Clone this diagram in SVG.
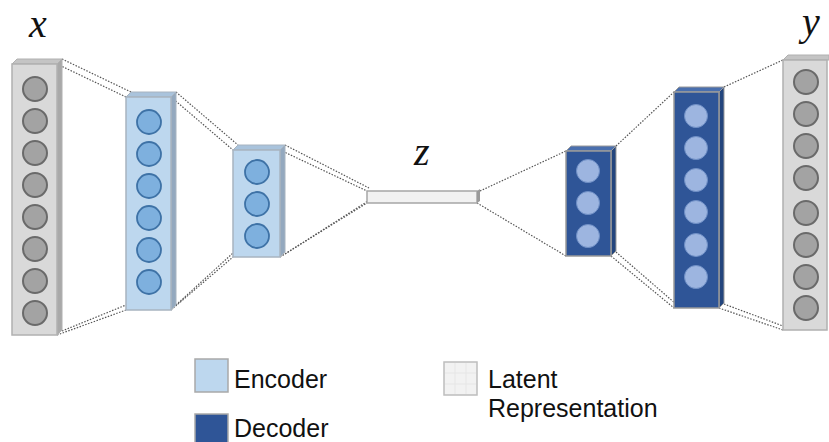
<svg xmlns="http://www.w3.org/2000/svg" width="829" height="442" viewBox="0 0 829 442">
  <style>
    .io-front{fill:#d9d9d9;stroke:#b0b0b0;stroke-width:1.5}
    .io-side{fill:#a9a9a9;stroke:#b0b0b0;stroke-width:1}
    .io-top{fill:#c4c4c4;stroke:#b0b0b0;stroke-width:1}
    .io-unit{fill:#a3a3a3;stroke:#6a6a6a;stroke-width:2}
    .enc-front{fill:#bdd7ee;stroke:#a8b4c0;stroke-width:1.5}
    .enc-side{fill:#94a9bf;stroke:#a8b4c0;stroke-width:1}
    .enc-top{fill:#a9c3dc;stroke:#a8b4c0;stroke-width:1}
    .enc-unit{fill:#7eb0de;stroke:#3e72a6;stroke-width:1.8}
    .dec-front{fill:#2f5597;stroke:#9a9a9a;stroke-width:1.5}
    .dec-side{fill:#23457d;stroke:#9a9a9a;stroke-width:1}
    .dec-top{fill:#4a6fae;stroke:#9a9a9a;stroke-width:1}
    .dec-unit{fill:#9db5e0;stroke:#6f8fc6;stroke-width:1}
    .lat-front{fill:#f2f2f2;stroke:#a6a6a6;stroke-width:1.5}
    .lat-side{fill:#9a9a9a}
    .link{stroke:#555;stroke-width:1.2;stroke-dasharray:1.5 1.5;fill:none}
    .math{font-family:"Liberation Serif","DejaVu Serif",serif;font-style:italic;font-size:40px;fill:#111}
    .legend{font-family:"Liberation Sans",Arial,sans-serif;font-size:25px;fill:#111}
  </style>

  <!-- connectors between layers -->
  <g id="connectors">
    <line class="link" x1="62" y1="59" x2="131" y2="92"/>
    <line class="link" x1="57" y1="64" x2="126" y2="97"/>
    <line class="link" x1="57" y1="335" x2="126" y2="310"/>
    <line class="link" x1="62" y1="331" x2="126" y2="305"/>

    <line class="link" x1="176" y1="92" x2="238" y2="145"/>
    <line class="link" x1="171" y1="97" x2="233" y2="150"/>
    <line class="link" x1="171" y1="310" x2="233" y2="257"/>
    <line class="link" x1="176" y1="305" x2="233" y2="253"/>

    <line class="link" x1="285" y1="145" x2="369" y2="188"/>
    <line class="link" x1="280" y1="150" x2="367" y2="191"/>
    <line class="link" x1="280" y1="257" x2="367" y2="203"/>
    <line class="link" x1="285" y1="254" x2="368" y2="201"/>

    <line class="link" x1="480" y1="191" x2="566" y2="151"/>
    <line class="link" x1="477" y1="203" x2="566" y2="256"/>

    <line class="link" x1="616" y1="146" x2="674" y2="92"/>
    <line class="link" x1="611" y1="256" x2="674" y2="308"/>
    <line class="link" x1="616" y1="252" x2="676" y2="304"/>

    <line class="link" x1="724" y1="87" x2="783" y2="60"/>
    <line class="link" x1="719" y1="308" x2="783" y2="330"/>
    <line class="link" x1="724" y1="304" x2="783" y2="326"/>
  </g>

  <!-- input layer x -->
  <g id="input">
    <polygon class="io-top" points="12,64 17,59 62,59 57,64"/>
    <polygon class="io-side" points="57,64 62,59 62,330 57,335"/>
    <rect class="io-front" x="12" y="64" width="45" height="271"/>
    <circle class="io-unit" cx="35" cy="89" r="12"/>
    <circle class="io-unit" cx="35" cy="121" r="12"/>
    <circle class="io-unit" cx="35" cy="153" r="12"/>
    <circle class="io-unit" cx="35" cy="185" r="12"/>
    <circle class="io-unit" cx="35" cy="217" r="12"/>
    <circle class="io-unit" cx="35" cy="249" r="12"/>
    <circle class="io-unit" cx="35" cy="281" r="12"/>
    <circle class="io-unit" cx="35" cy="313" r="12"/>
    <text class="math" x="29" y="37">x</text>
  </g>

  <!-- encoder layer 1 -->
  <g id="encoder1">
    <polygon class="enc-top" points="126,97 131,92 176,92 171,97"/>
    <polygon class="enc-side" points="171,97 176,92 176,305 171,310"/>
    <rect class="enc-front" x="126" y="97" width="45" height="213"/>
    <circle class="enc-unit" cx="149" cy="122" r="12"/>
    <circle class="enc-unit" cx="149" cy="154" r="12"/>
    <circle class="enc-unit" cx="149" cy="186" r="12"/>
    <circle class="enc-unit" cx="149" cy="218" r="12"/>
    <circle class="enc-unit" cx="149" cy="250" r="12"/>
    <circle class="enc-unit" cx="149" cy="282" r="12"/>
  </g>

  <!-- encoder layer 2 -->
  <g id="encoder2">
    <polygon class="enc-top" points="233,150 238,145 285,145 280,150"/>
    <polygon class="enc-side" points="280,150 285,145 285,252 280,257"/>
    <rect class="enc-front" x="233" y="150" width="47" height="107"/>
    <circle class="enc-unit" cx="257" cy="172" r="12"/>
    <circle class="enc-unit" cx="257" cy="204" r="12"/>
    <circle class="enc-unit" cx="257" cy="236" r="12"/>
  </g>

  <!-- latent code z -->
  <g id="latent">
    <rect class="lat-front" x="367" y="191" width="110" height="12"/>
    <polygon class="lat-side" points="477,191 480,189 480,201 477,203"/>
    <text class="math" x="414" y="165">z</text>
  </g>

  <!-- decoder layer 1 -->
  <g id="decoder1">
    <polygon class="dec-top" points="566,151 571,146 616,146 611,151"/>
    <polygon class="dec-side" points="611,151 616,146 616,251 611,256"/>
    <rect class="dec-front" x="566" y="151" width="45" height="105"/>
    <circle class="dec-unit" cx="588" cy="171" r="11.5"/>
    <circle class="dec-unit" cx="588" cy="203" r="11.5"/>
    <circle class="dec-unit" cx="588" cy="236" r="11.5"/>
  </g>

  <!-- decoder layer 2 -->
  <g id="decoder2">
    <polygon class="dec-top" points="674,92 679,87 724,87 719,92"/>
    <polygon class="dec-side" points="719,92 724,87 724,303 719,308"/>
    <rect class="dec-front" x="674" y="92" width="45" height="216"/>
    <circle class="dec-unit" cx="696" cy="116" r="11.5"/>
    <circle class="dec-unit" cx="696" cy="148" r="11.5"/>
    <circle class="dec-unit" cx="696" cy="180" r="11.5"/>
    <circle class="dec-unit" cx="696" cy="212" r="11.5"/>
    <circle class="dec-unit" cx="696" cy="245" r="11.5"/>
    <circle class="dec-unit" cx="696" cy="277" r="11.5"/>
  </g>

  <!-- output layer y -->
  <g id="output">
    <polygon class="io-top" points="783,60 788,55 829,55 829,60"/>
    <rect class="io-front" x="783" y="60" width="44" height="270"/>
    <circle class="io-unit" cx="806" cy="82" r="12"/>
    <circle class="io-unit" cx="806" cy="114" r="12"/>
    <circle class="io-unit" cx="806" cy="146" r="12"/>
    <circle class="io-unit" cx="806" cy="178" r="12"/>
    <circle class="io-unit" cx="806" cy="213" r="12"/>
    <circle class="io-unit" cx="806" cy="245" r="12"/>
    <circle class="io-unit" cx="806" cy="277" r="12"/>
    <circle class="io-unit" cx="806" cy="308" r="12"/>
    <text class="math" x="802" y="35">y</text>
  </g>

  <!-- legend -->
  <g id="legend">
    <rect x="195" y="359" width="33" height="33" fill="#bdd7ee" stroke="#a9a9a9" stroke-width="1.5"/>
    <text class="legend" x="234" y="388">Encoder</text>
    <rect x="195" y="414" width="33" height="33" fill="#2f5597" stroke="#a9a9a9" stroke-width="1.5"/>
    <text class="legend" x="234" y="437">Decoder</text>
    <rect x="444" y="362" width="33" height="33" fill="#f2f2f2" stroke="#bdbdbd" stroke-width="1.5"/>
    <path d="M455,363 V394 M466,363 V394 M445,373 H476 M445,384 H476" stroke="#e6e6e6" stroke-width="1" fill="none"/>
    <text class="legend" x="488" y="388">Latent</text>
    <text class="legend" x="488" y="417">Representation</text>
  </g>
</svg>
